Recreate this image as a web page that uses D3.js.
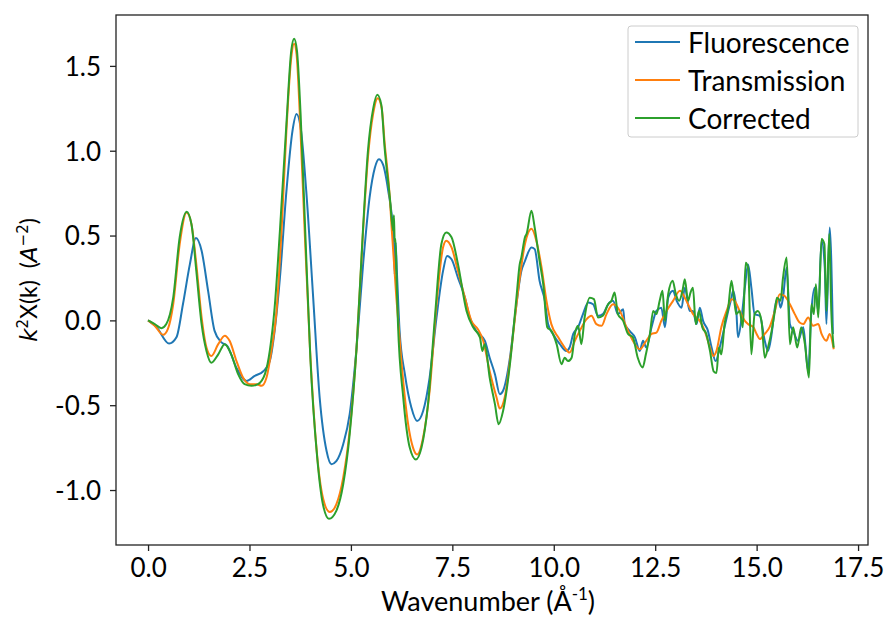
<!DOCTYPE html>
<html>
<head>
<meta charset="utf-8">
<script src="https://cdn.jsdelivr.net/npm/d3@7"></script>
<style>
  body { margin: 0; background: #fff; }
  svg { display: block; }
  text { font-family: Lato, "Open Sans", sans-serif; fill: #000; }
</style>
</head>
<body>
<svg width="886" height="617"></svg>
<script>
// Fluorescence
var kFluor = [0,0.21,0.52,0.70,0.86,1.03,1.18,1.32,1.48,1.64,1.81,1.95,2.18,2.43,2.63,2.84,3.0,3.12,3.25,3.41,3.56,3.66,3.76,3.90,4.07,4.23,4.40,4.52,4.64,4.81,4.97,5.14,5.30,5.46,5.59,5.69,5.79,5.92,6.04,6.06,6.08,6.10,6.14,6.2,6.33,6.49,6.63,6.78,6.94,7.11,7.27,7.37,7.48,7.64,7.81,7.93,8.09,8.30,8.42,8.55,8.67,8.75,8.92,9.04,9.20,9.29,9.45,9.53,9.65,9.78,9.86,9.98,10.15,10.31,10.39,10.48,10.60,10.72,10.85,10.97,11.09,11.21,11.34,11.46,11.58,11.71,11.75,11.87,12.0,12.12,12.2,12.28,12.41,12.53,12.65,12.74,12.82,12.94,13.03,13.15,13.23,13.35,13.43,13.52,13.60,13.68,13.80,13.89,13.99,14.09,14.17,14.30,14.38,14.42,14.50,14.54,14.63,14.71,14.79,14.87,14.95,15.08,15.20,15.28,15.37,15.45,15.53,15.59,15.65,15.74,15.82,15.90,16.02,16.15,16.27,16.35,16.43,16.52,16.60,16.68,16.72,16.80,16.88]
var yFluor = [0,-0.04,-0.137,-0.10,0.095,0.33,0.485,0.41,0.174,-0.062,-0.13,-0.15,-0.28,-0.357,-0.327,-0.30,-0.24,-0.062,0.25,0.76,1.117,1.216,1.137,0.76,0.134,-0.455,-0.77,-0.848,-0.83,-0.73,-0.553,-0.16,0.33,0.724,0.90,0.95,0.92,0.764,0.528,0.45,0.27,0.46,0.25,-0.062,-0.317,-0.514,-0.593,-0.534,-0.337,0.017,0.29,0.38,0.36,0.25,0.134,0.017,-0.062,-0.12,-0.22,-0.317,-0.435,-0.415,-0.22,0.017,0.29,0.35,0.43,0.42,0.233,0.115,-0.022,-0.08,-0.14,-0.18,-0.16,-0.08,-0.04,0.037,0.105,0.095,0.027,0.037,0.095,0.115,0.037,0.066,-0.022,-0.062,-0.10,-0.18,-0.12,-0.16,-0.04,0.056,0.075,-0.04,0.134,0.174,0.115,0.075,0.193,0.056,0.056,-0.022,0.075,-0.003,-0.062,-0.16,-0.24,-0.16,-0.08,0.056,0.134,0.174,0.056,-0.10,0.017,0.193,0.33,0.193,0.037,0.027,-0.12,-0.18,-0.08,0.075,0.134,0.075,0.134,0.31,-0.022,-0.062,-0.12,-0.04,-0.30,0.056,0.193,0.056,0.47,0.31,-0.022,0.547,-0.08]

// Transmission
var kTrans = [0,0.165,0.37,0.49,0.62,0.78,0.95,1.07,1.19,1.32,1.44,1.56,1.73,1.89,2.01,2.18,2.34,2.51,2.67,2.80,2.92,3.04,3.16,3.29,3.41,3.53,3.60,3.66,3.74,3.86,3.99,4.15,4.31,4.48,4.64,4.81,4.97,5.14,5.30,5.42,5.55,5.66,5.76,5.83,5.96,6.0,6.12,6.25,6.41,6.53,6.63,6.78,6.94,7.11,7.27,7.35,7.48,7.64,7.81,7.97,8.13,8.26,8.42,8.59,8.67,8.79,8.96,9.12,9.29,9.45,9.57,9.70,9.82,9.94,10.11,10.27,10.39,10.52,10.64,10.81,10.93,11.05,11.18,11.30,11.46,11.63,11.79,11.95,12.12,12.28,12.41,12.53,12.65,12.78,12.94,13.11,13.23,13.35,13.43,13.60,13.72,13.85,13.93,14.01,14.13,14.26,14.38,14.46,14.58,14.71,14.79,14.92,15.0,15.08,15.20,15.32,15.45,15.57,15.69,15.82,15.94,16.06,16.15,16.27,16.39,16.52,16.60,16.72,16.80,16.90]
var yTrans = [0,-0.032,-0.085,-0.05,0.095,0.45,0.636,0.567,0.33,0.017,-0.16,-0.21,-0.14,-0.09,-0.12,-0.24,-0.337,-0.376,-0.376,-0.386,-0.337,-0.18,0.037,0.528,1.117,1.55,1.63,1.57,1.216,0.528,-0.16,-0.75,-1.045,-1.13,-1.084,-0.927,-0.65,-0.16,0.528,0.96,1.22,1.31,1.25,1.05,0.72,0.56,0.134,-0.258,-0.612,-0.75,-0.79,-0.69,-0.416,0.095,0.43,0.47,0.43,0.29,0.134,-0.003,-0.052,-0.12,-0.30,-0.455,-0.52,-0.455,-0.16,0.174,0.45,0.54,0.47,0.31,0.115,-0.022,-0.10,-0.16,-0.19,-0.12,-0.062,0.007,0.027,-0.022,-0.032,0.037,0.095,0.056,-0.04,-0.12,-0.17,-0.12,-0.08,-0.072,-0.003,0.056,0.115,0.174,0.134,0.075,0.037,-0.003,-0.062,-0.16,-0.21,-0.18,-0.04,0.056,0.125,0.115,0.056,-0.003,-0.022,-0.04,-0.08,-0.11,-0.08,-0.04,0.056,0.154,0.144,0.095,0.037,-0.013,-0.022,0.017,-0.032,-0.022,-0.08,-0.12,-0.08,-0.17]

// Corrected
var kCorr = [0,0.165,0.33,0.45,0.62,0.78,0.95,1.07,1.19,1.32,1.44,1.56,1.73,1.89,2.05,2.22,2.38,2.55,2.71,2.88,3.0,3.12,3.25,3.41,3.53,3.60,3.67,3.76,3.88,4.00,4.17,4.31,4.46,4.64,4.81,4.97,5.14,5.30,5.42,5.55,5.65,5.75,5.83,5.96,6.04,6.06,6.08,6.10,6.13,6.16,6.29,6.45,6.60,6.74,6.90,7.07,7.23,7.35,7.48,7.64,7.85,8.01,8.18,8.24,8.30,8.42,8.55,8.64,8.75,8.92,9.08,9.16,9.20,9.29,9.33,9.45,9.53,9.65,9.74,9.84,9.94,10.07,10.19,10.27,10.35,10.44,10.52,10.60,10.68,10.76,10.89,10.99,11.09,11.21,11.34,11.42,11.50,11.58,11.71,11.83,11.95,12.07,12.19,12.27,12.37,12.45,12.53,12.61,12.68,12.74,12.82,12.93,13.01,13.09,13.18,13.23,13.31,13.37,13.43,13.50,13.58,13.66,13.76,13.85,13.94,14.01,14.07,14.13,14.21,14.30,14.38,14.44,14.50,14.58,14.66,14.73,14.79,14.87,14.95,15.03,15.12,15.20,15.28,15.37,15.45,15.50,15.59,15.65,15.74,15.82,15.90,16.0,16.10,16.19,16.29,16.35,16.41,16.46,16.52,16.60,16.67,16.72,16.79,16.84,16.90]
var yCorr = [0,-0.022,-0.046,-0.022,0.134,0.49,0.64,0.567,0.29,-0.022,-0.18,-0.25,-0.20,-0.14,-0.20,-0.317,-0.376,-0.386,-0.376,-0.317,-0.18,0.075,0.528,1.157,1.59,1.66,1.59,1.216,0.49,-0.22,-0.81,-1.084,-1.17,-1.123,-0.966,-0.67,-0.16,0.547,1.0,1.25,1.33,1.27,1.02,0.724,0.53,0.62,0.46,0.48,0.2,-0.02,-0.455,-0.75,-0.82,-0.75,-0.494,0.017,0.45,0.518,0.49,0.33,0.056,-0.04,-0.10,-0.18,-0.14,-0.337,-0.494,-0.612,-0.534,-0.258,0.134,0.33,0.37,0.49,0.51,0.646,0.547,0.35,0.213,-0.04,-0.062,-0.14,-0.258,-0.22,-0.24,-0.22,-0.08,-0.032,-0.14,0.017,0.134,0.125,0.017,0.027,0.095,0.115,0.164,0.037,-0.003,-0.08,-0.10,-0.22,-0.278,-0.20,-0.08,0.056,0.037,0.115,0.174,-0.003,0.154,0.233,0.154,0.115,0.184,0.243,0.115,0.164,0.193,-0.022,0.056,-0.04,-0.08,-0.18,-0.30,-0.31,-0.16,-0.20,-0.022,0.075,0.233,0.134,0.037,0.056,-0.04,0.34,0.31,-0.20,0.037,0.056,-0.003,-0.22,-0.16,-0.062,0.056,0.134,0.115,0.25,0.37,-0.14,-0.04,-0.16,-0.04,-0.14,-0.337,0.095,0.037,0.213,0.017,0.48,0.45,0.056,0.51,0.056,-0.16]

var seriesNames = ["Fluorescence", "Transmission", "Corrected"]
var seriesColors = ["#1f77b4", "#ff7f0e", "#2ca02c"]
var xTicks = [0, 2.5, 5, 7.5, 10, 12.5, 15, 17.5]
var yTicks = [-1.0, -0.5, 0.0, 0.5, 1.0, 1.5]

var svg = d3.select("svg")
// plot box (named to avoid clashing with window.top)
var pLeft = 116, pRight = 868, pTop = 15, pBottom = 545

var x = d3.scaleLinear().domain([-0.79, 17.745]).range([pLeft, pRight])
var y = d3.scaleLinear().domain([-1.324, 1.80]).range([pBottom, pTop])

var series = [
    kFluor.map((k, i) => [k, yFluor[i]]),
    kTrans.map((k, i) => [k, yTrans[i]]),
    kCorr.map((k, i) => [k, yCorr[i]])
]

var line = d3.line().curve(d3.curveMonotoneX).x(d => x(d[0])).y(d => y(d[1]))

var plot = svg.append("g")
series.forEach((s, i) => {
    plot.append("path")
    .datum(s)
    .attr("d", line)
    .attr("fill", "none")
    .attr("stroke", seriesColors[i])
    .attr("stroke-width", 2)
    .attr("stroke-linejoin", "round")
})

// axes
var xAxis = svg.append("g")
.attr("transform", "translate(0," + pBottom + ")")
.call(d3.axisBottom(x).tickValues(xTicks).tickFormat(d => d.toFixed(1)).tickSize(6).tickPadding(6))
var yAxis = svg.append("g")
.attr("transform", "translate(" + pLeft + ",0)")
.call(d3.axisLeft(y).tickValues(yTicks).tickFormat(d => d.toFixed(1)).tickSize(6).tickPadding(9))

svg.selectAll(".domain").remove()
svg.selectAll(".tick line").attr("stroke", "#222").attr("stroke-width", 1.3)
svg.selectAll(".tick text")
.attr("font-family", "Lato, sans-serif")
.attr("font-size", 26)
.attr("fill", "#000")
xAxis.selectAll(".tick text").attr("dy", "0.78em")
yAxis.selectAll(".tick text").attr("dy", "0.36em")

// frame
svg.append("rect")
.attr("x", pLeft).attr("y", pTop)
.attr("width", pRight - pLeft).attr("height", pBottom - pTop)
.attr("fill", "none")
.attr("stroke", "#222")
.attr("stroke-width", 1.3)

// x label
var xl = svg.append("text")
.attr("x", 488).attr("y", 611)
.attr("text-anchor", "middle")
.attr("font-size", 27)
xl.append("tspan").text("Wavenumber (Å")
xl.append("tspan").attr("font-size", 17).attr("dy", -11).text("-1")
xl.append("tspan").attr("dy", 11).text(")")

// y label
var yl = svg.append("text")
.attr("transform", "translate(37," + ((pTop + pBottom) / 2) + ") rotate(-90)")
.attr("text-anchor", "middle")
.attr("font-size", 23)
.style("white-space", "pre")
yl.append("tspan").attr("font-family", "DejaVu Sans").attr("font-style", "italic").text("k")
yl.append("tspan").attr("font-family", "DejaVu Sans").attr("font-size", 15).attr("dy", -9).text("2")
yl.append("tspan").attr("dy", 9).text("X(k)  (")
yl.append("tspan").attr("font-family", "DejaVu Sans").attr("font-style", "italic").text("A")
yl.append("tspan").attr("font-family", "DejaVu Sans").attr("font-size", 15).attr("dy", -9).text("\u22122")
yl.append("tspan").attr("dy", 9).text(")")

// legend
var legend = svg.append("g")
legend.append("rect")
.attr("x", 628).attr("y", 26)
.attr("width", 230).attr("height", 111)
.attr("rx", 3)
.attr("fill", "#fff").attr("fill-opacity", 0.8)
.attr("stroke", "#ccc").attr("stroke-width", 1)
seriesNames.forEach((name, i) => {
    var ly = 42 + i * 38
    legend.append("line")
    .attr("x1", 635).attr("x2", 680)
    .attr("y1", ly).attr("y2", ly)
    .attr("stroke", seriesColors[i]).attr("stroke-width", 2)
    legend.append("text")
    .attr("x", 688).attr("y", ly + 11)
    .attr("font-size", 28)
    .text(name)
})
</script>
</body>
</html>
